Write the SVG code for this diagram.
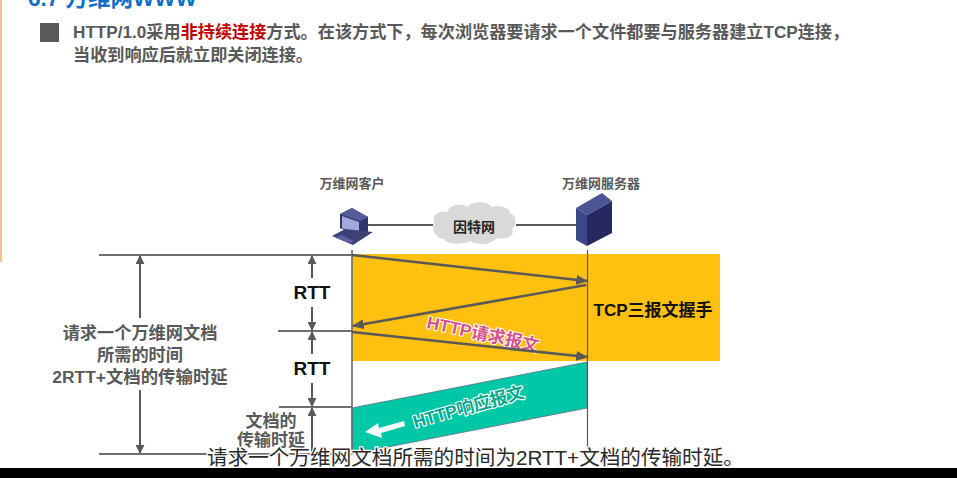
<svg xmlns="http://www.w3.org/2000/svg" width="957" height="478" viewBox="0 0 957 478">
<style>
text{font-family:"Liberation Sans","Noto Sans CJK SC",sans-serif;font-weight:700}
.g{fill:#595959}
.m{text-anchor:middle}
.l{stroke:#595959;fill:none;stroke-width:2}
.d{stroke:#6f6f6f;stroke-width:1.8;fill:none}
.o{paint-order:stroke;stroke-linejoin:round}
</style>
<defs>
<marker id="a" viewBox="0 0 10 10" refX="9" refY="5" markerWidth="9" markerHeight="9" markerUnits="userSpaceOnUse" orient="auto-start-reverse"><path d="M0 0L10 5L0 10z" fill="#595959"/></marker>
<marker id="b" viewBox="0 0 10 10" refX="9" refY="5" markerWidth="12" markerHeight="10" preserveAspectRatio="none" markerUnits="userSpaceOnUse" orient="auto"><path d="M0 0L10 5L0 10z" fill="#595959"/></marker>
</defs>
<rect width="957" height="478" fill="#fff"/>
<rect x="0" y="0" width="2" height="262" fill="#efc28e"/>
<text x="28" y="6" font-size="22.5" fill="#0f6fc6">6.7 万维网WWW</text>
<rect x="40" y="23" width="19" height="19" fill="#595959"/>
<text x="73" y="38" font-size="17.15" class="g">HTTP/1.0采用<tspan fill="#c00000">非持续连接</tspan>方式。在该方式下，每次浏览器要请求一个文件都要与服务器建立TCP连接，</text>
<text x="73" y="61" font-size="17.15" class="g">当收到响应后就立即关闭连接。</text>
<g id="handshake"><rect x="352" y="254" width="368" height="107" fill="#ffc00f"/><text x="653" y="316" font-size="17" fill="#111" class="m">TCP三报文握手</text></g>
<g id="response"><path d="M352 408L587 362V408L352 454z" fill="#00c8a6" stroke="#5a6b8a" stroke-width=".8"/><path d="M404 421L379 428L378 423L365 432L382 438L381 433L405 426z" fill="#fff"/>
<text class="o" transform="translate(415 428) rotate(-15.5)" font-size="17.3" fill="#00a88c" stroke="#fff" stroke-width="2.2">HTTP响应报文</text></g>
<g id="request"><text class="o" transform="translate(426 328) rotate(12)" font-size="17.3" fill="#d4528c" stroke="#fff" stroke-width="2">HTTP请求报文</text></g>
<g id="client"><text x="352" y="188" font-size="13" class="g m">万维网客户</text>
<path d="M340 214L352 208L368 217L368 232L360 237L340 228z" fill="#30356e"/><path d="M340 214L352 208L368 217L360 221z" fill="#565c9c"/><path d="M342 216L359 222V235L342 228z" fill="#a3a9dc"/><path d="M332 236L345 229L373 232L353 245z" fill="#3c4277"/><path d="M336 238L350 243L354 241L341 235z" fill="#5a60a0"/></g>
<g id="internet"><path d="M434 222C432 213 442 210 447 212C451 203 463 204 467 207C473 200 488 201 491 207C499 205 510 207 510 213C518 216 516 226 512 229C516 236 505 240 497 238C490 246 476 245 470 241C463 245 447 245 444 239C436 239 431 230 434 222z" fill="#d9d9d9"/><text x="474" y="232" font-size="14" fill="#222" class="m">因特网</text></g>
<g id="server"><text x="601" y="188" font-size="13" class="g m">万维网服务器</text>
<path d="M587 215L612 201V233L587 246z" fill="#27285f"/><path d="M576 208L587 215V246L576 240z" fill="#3d4688"/><path d="M576 208L602 193L612 201L587 215z" fill="#4a5596"/></g>
<g id="connectors">
<path class="l" d="M368 225H433M516 225H576"/>
<path stroke="#595959" fill="none" d="M587.500 250V454" stroke-width="1.2"/>
<path stroke="#6a6a6a" fill="none" d="M352 250V454" stroke-width="1.6"/>
<g stroke="#595959" stroke-width="2.6" fill="none">
<path d="M352 255L587 281" marker-end="url(#b)"/><path d="M586 285L353 326" marker-end="url(#b)"/><path d="M352 332L587 357" marker-end="url(#b)"/>
</g>
<path class="d" d="M99 255H352M278 331H352M279 407H352M99 454H352"/>
<path class="l" marker-start="url(#a)" d="M140 256V318"/><path class="l" marker-end="url(#a)" d="M140 390V453"/>
<path class="l" marker-start="url(#a)" d="M312 256V278"/><path class="l" marker-end="url(#a)" d="M312 307V330"/>
<path class="l" marker-start="url(#a)" d="M312 332V354"/><path class="l" marker-end="url(#a)" d="M312 383V406"/>
<path class="l" marker-start="url(#a)" d="M312 408V453"/>
</g>
<g id="timing">
<text x="140" y="339" font-size="17.2" class="g m">请求一个万维网文档</text>
<text x="140" y="361" font-size="17.2" class="g m">所需的时间</text>
<text x="140" y="383" font-size="17.4" class="g m">2RTT+文档的传输时延</text>
<text x="312" y="299" font-size="19" fill="#111" class="m">RTT</text>
<text x="312" y="375" font-size="19" fill="#111" class="m">RTT</text>
<text x="271" y="427" font-size="17" class="g m">文档的</text>
<text x="271" y="446" font-size="17" class="g m">传输时延</text>
</g>
<rect x="0" y="468" width="957" height="10" fill="#000"/>
<text x="475.500" y="465" font-size="20.6" fill="#2a2a2a" stroke="#fff" stroke-width="2.6" class="m o" style="font-weight:400">请求一个万维网文档所需的时间为2RTT+文档的传输时延。</text>
</svg>
